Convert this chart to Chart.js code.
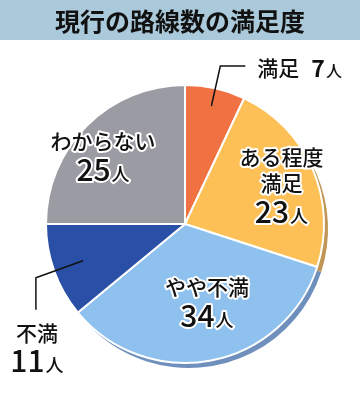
<!DOCTYPE html>
<html>
<head>
<meta charset="utf-8">
<script src="https://cdn.jsdelivr.net/npm/chart.js@4"></script>
<style>
  html, body { margin: 0; padding: 0; background: #fff; }
  #wrap { width: 360px; height: 400px; }
</style>
</head>
<body>
<div id="wrap"><canvas id="pieChart"></canvas></div>
<script>
// 数据
var title = '現行の路線数の満足度';
var labels = ['満足', 'ある程度満足', 'やや不満', '不満', 'わからない'];
var values = [7, 23, 34, 11, 25];
var unit = '人';
var labelLines = [['満足'], ['ある程度', '満足'], ['やや不満'], ['不満'], ['わからない']];
var colors = ['#f07242', '#fdc057', '#8ec1ee', '#2a4fa6', '#9b9ba3'];
var shadowColors = ['#b8603c', '#bf9655', '#6f8fbd', '#23407e', '#7a7a82'];

var FONT = '"Noto Sans CJK JP", "Noto Sans", sans-serif';

// 标签位置: 半径比例, 角度偏移(度)
var labelRadius = [null, 0.75, 0.58, null, 0.77];
var labelShift = [0, 1, -5, 0, -5];

// 标题背景
var titlePlugin = {
  id: 'titleBar',
  beforeDraw: function (chart) {
    var ctx = chart.ctx;
    ctx.save();
    ctx.fillStyle = '#aac9da';
    ctx.fillRect(0, 0, chart.width, 40);
    ctx.fillStyle = '#111';
    ctx.font = 'bold 25px ' + FONT;
    ctx.textAlign = 'center';
    ctx.textBaseline = 'middle';
    ctx.fillText(title, chart.width / 2, 21);
    ctx.restore();
  }
};

// 立体阴影
var shadowPlugin = {
  id: 'pieShadow',
  beforeDatasetsDraw: function (chart) {
    var ctx = chart.ctx;
    var meta = chart.getDatasetMeta(0);
    ctx.save();
    ctx.translate(4, 5);
    meta.data.forEach(function (arc, i) {
      var p = arc.getProps(['x', 'y', 'startAngle', 'endAngle', 'outerRadius']);
      ctx.beginPath();
      ctx.moveTo(p.x, p.y);
      ctx.arc(p.x, p.y, p.outerRadius, p.startAngle, p.endAngle);
      ctx.closePath();
      ctx.fillStyle = shadowColors[i];
      ctx.fill();
    });
    ctx.restore();
  }
};

function drawNumber(ctx, value, x, y, halo) {
  var numFont = '500 30px ' + FONT;
  var unitFont = '500 18px ' + FONT;
  ctx.font = numFont;
  var w1 = ctx.measureText(String(value)).width;
  ctx.font = unitFont;
  var w2 = ctx.measureText(unit).width;
  var left = x - (w1 + w2 + 1) / 2;
  ctx.textAlign = 'left';
  ctx.textBaseline = 'alphabetic';
  var parts = [[String(value), numFont, left, y + 11], [unit, unitFont, left + w1 + 1, y + 11]];
  parts.forEach(function (pt) {
    ctx.font = pt[1];
    if (halo) {
      ctx.strokeStyle = '#fff';
      ctx.lineWidth = 4;
      ctx.lineJoin = 'round';
      ctx.strokeText(pt[0], pt[2], pt[3]);
    }
    ctx.fillStyle = '#111';
    ctx.fillText(pt[0], pt[2], pt[3]);
  });
}

function drawLabel(ctx, text, x, y, halo) {
  ctx.font = '500 21px ' + FONT;
  ctx.textAlign = 'center';
  ctx.textBaseline = 'middle';
  if (halo) {
    ctx.strokeStyle = '#fff';
    ctx.lineWidth = 4;
    ctx.lineJoin = 'round';
    ctx.strokeText(text, x, y);
  }
  ctx.fillStyle = '#111';
  ctx.fillText(text, x, y);
}

// 数据标签
var labelPlugin = {
  id: 'sliceLabels',
  afterDatasetsDraw: function (chart) {
    var ctx = chart.ctx;
    var meta = chart.getDatasetMeta(0);
    ctx.save();
    meta.data.forEach(function (arc, i) {
      var p = arc.getProps(['x', 'y', 'startAngle', 'endAngle', 'outerRadius']);
      var r = p.outerRadius;
      var mid = (p.startAngle + p.endAngle) / 2;
      if (labelRadius[i] !== null) {
        var a = mid + labelShift[i] * Math.PI / 180;
        var cx = p.x + Math.cos(a) * r * labelRadius[i];
        var cy = p.y + Math.sin(a) * r * labelRadius[i];
        var lines = labelLines[i];
        var h = (lines.length - 1) * 26 + 29;
        var top = cy - h / 2;
        lines.forEach(function (t, k) {
          drawLabel(ctx, t, cx, top + k * 26, true);
        });
        drawNumber(ctx, values[i], cx, top + (lines.length - 1) * 26 + 29, true);
        return;
      }
      // 引出线
      var sx = p.x + Math.cos(mid) * r * (i === 0 ? 0.87 : 0.78);
      var sy = p.y + Math.sin(mid) * r * (i === 0 ? 0.87 : 0.78);
      var ex = p.x + Math.cos(mid) * r * (i === 0 ? 1.165 : 1.14);
      var ey = p.y + Math.sin(mid) * r * (i === 0 ? 1.165 : 1.14);
      ctx.strokeStyle = '#111';
      ctx.lineWidth = 1.5;
      ctx.beginPath();
      ctx.moveTo(sx, sy);
      ctx.lineTo(ex, ey);
      if (i === 0) {
        ctx.lineTo(ex + 25, ey);
      } else {
        ctx.lineTo(ex, ey + 32);
      }
      ctx.stroke();
      if (i === 0) {
        ctx.font = '500 21px ' + FONT;
        ctx.textAlign = 'left';
        ctx.textBaseline = 'middle';
        ctx.fillStyle = '#111';
        var tx = ex + 37;
        ctx.fillText(labelLines[i][0], tx, ey + 2);
        var w = ctx.measureText(labelLines[i][0]).width;
        ctx.font = 'bold 23px ' + FONT;
        ctx.textBaseline = 'alphabetic';
        ctx.fillText(String(values[i]), tx + w + 12, ey + 11);
        var w2 = ctx.measureText(String(values[i])).width;
        ctx.font = '500 16px ' + FONT;
        ctx.fillText(unit, tx + w + 12 + w2 + 1, ey + 11);
      } else {
        drawLabel(ctx, labelLines[i][0], ex + 1, ey + 55, false);
        drawNumber(ctx, values[i], ex + 1, ey + 83, false);
      }
    });
    ctx.restore();
  }
};

var pieChart = new Chart(document.getElementById('pieChart'), {
  type: 'pie',
  data: {
    labels: labels,
    datasets: [{
      data: values,
      backgroundColor: colors,
      borderColor: '#fff',
      borderWidth: 2,
      hoverOffset: 0
    }]
  },
  options: {
    responsive: true,
    maintainAspectRatio: false,
    animation: false,
    layout: { padding: { top: 84, bottom: 36, left: 45, right: 35 } },
    plugins: {
      legend: { display: false },
      tooltip: { enabled: false }
    }
  },
  plugins: [titlePlugin, shadowPlugin, labelPlugin]
});
</script>
</body>
</html>
